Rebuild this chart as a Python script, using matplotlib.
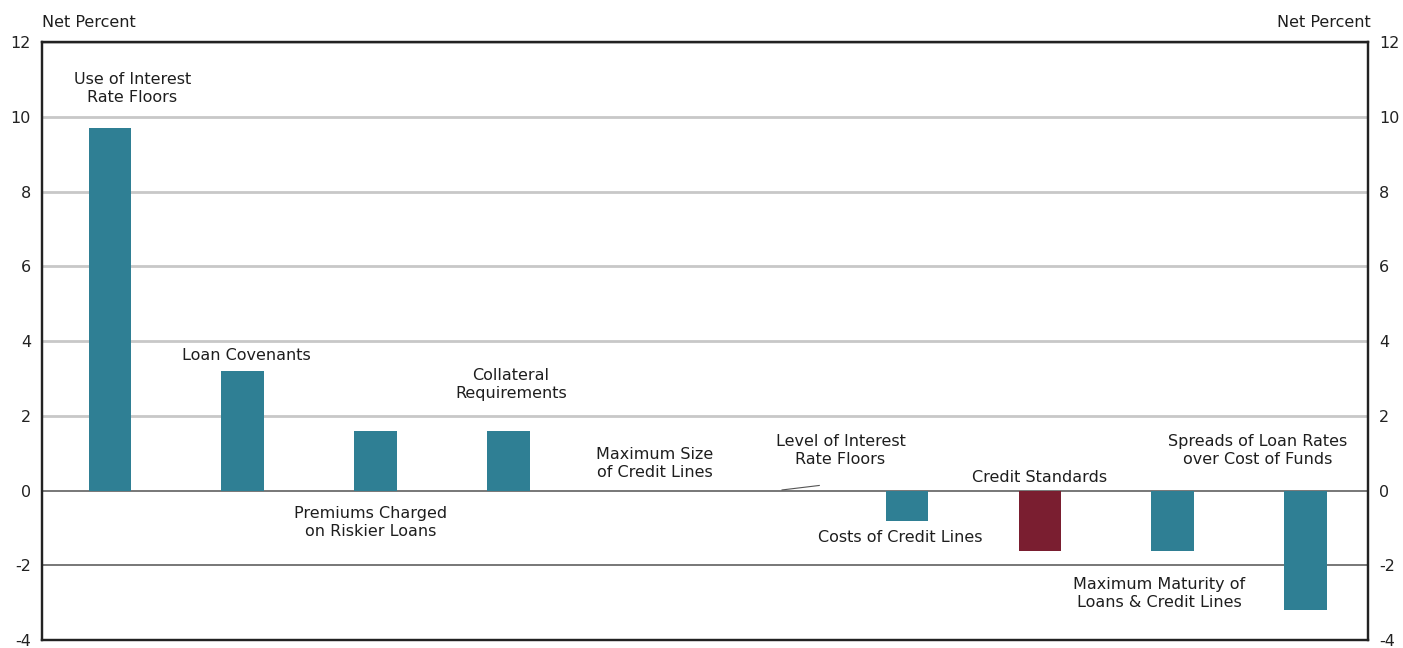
import matplotlib.pyplot as plt
import numpy as np

# valores (porcentaje neto)
categorias = ["Use of Interest\nRate Floors", "Loan Covenants",
              "Premiums Charged\non Riskier Loans", "Collateral\nRequirements",
              "Maximum Size\nof Credit Lines", "Level of Interest\nRate Floors",
              "Costs of Credit Lines", "Credit Standards",
              "Maximum Maturity of\nLoans & Credit Lines",
              "Spreads of Loan Rates\nover Cost of Funds"]
valores = [9.7, 3.2, 1.6, 1.6, 0.0, 0.0, -0.8, -1.6, -1.6, -3.2]
colores = ["#2F7F94"] * 7 + ["#7A1E30"] + ["#2F7F94"] * 2
# posicion de cada etiqueta (dx respecto a la barra, y en datos)
etiq_dx = [0.17, 0.03, -0.04, 0.02, 0.1, 0.5, -0.05, 0.0, -0.1, -0.36]
etiq_y = [10.75, 3.63, -0.85, 2.83, 0.72, 1.07, -1.25, 0.35, -2.75, 1.07]
yticks = [12, 10, 8, 6, 4, 2, 0, -2, -4]

fig = plt.figure(figsize=(14.03, 6.48), dpi=100)
ax = fig.add_axes([0.030, 0.012, 0.945, 0.923])
x = np.arange(len(valores))

for t in yticks:
    if t in (0, -2):
        ax.axhline(t, color="#777777", lw=1.4, zorder=1)
    else:
        ax.axhline(t, color="#C8C8C8", lw=2, zorder=1)

ax.bar(x, valores, width=0.32, color=colores, zorder=2)

for i in range(len(categorias)):
    ax.text(x[i] + etiq_dx[i], etiq_y[i], categorias[i], ha="center", va="center",
            fontsize=11.5, color="#1E1E1E", linespacing=1.25, zorder=3)

# pequena linea guia bajo "Level of Interest Rate Floors"
ax.plot([5.06, 5.34], [0.02, 0.14], color="#555555", lw=0.8, zorder=3)

ax.set_xlim(-0.51, 9.47)
ax.set_ylim(-4, 12)
ax.set_xticks([])
ax.set_yticks(yticks)
ax.set_yticklabels([str(t) for t in yticks])
ax.tick_params(axis="y", length=0, labelsize=11.5, pad=8, colors="#222222")
ax2 = ax.twinx()
ax2.set_ylim(-4, 12)
ax2.set_yticks(yticks)
ax2.set_yticklabels([str(t) for t in yticks])
ax2.tick_params(axis="y", length=0, labelsize=11.5, pad=8, colors="#222222")
for a in (ax, ax2):
    for s in a.spines.values():
        s.set_linewidth(1.6)
        s.set_color("#222222")

fig.text(0.030, 0.965, "Net Percent", fontsize=11.5, ha="left", va="center", color="#1E1E1E")
fig.text(0.977, 0.965, "Net Percent", fontsize=11.5, ha="right", va="center", color="#1E1E1E")

fig.savefig("out.png", dpi=100, facecolor="white")
